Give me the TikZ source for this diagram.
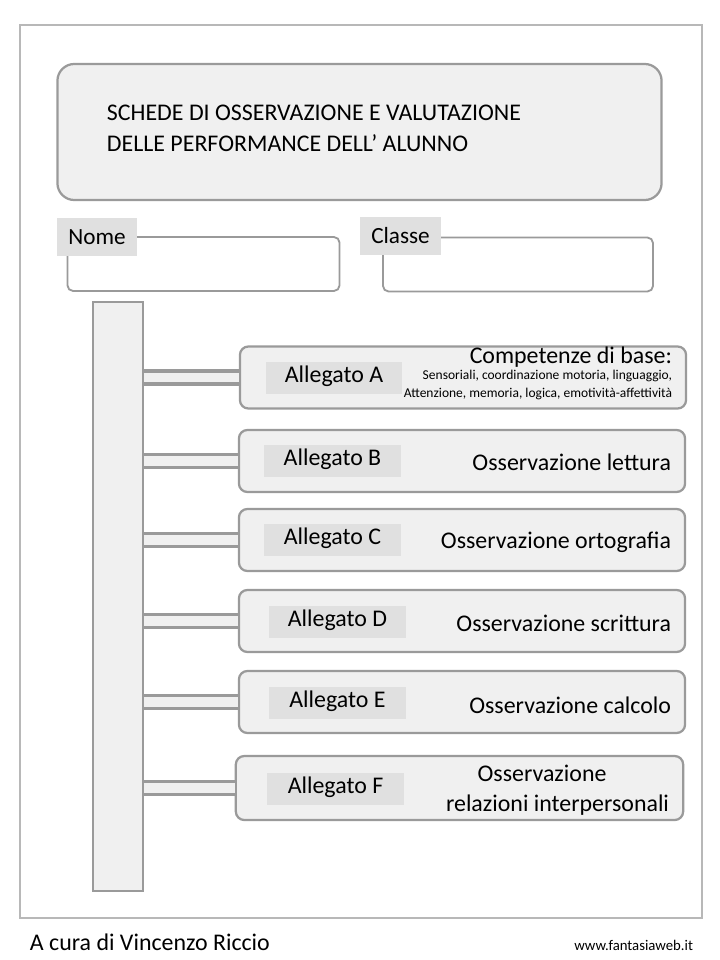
\documentclass[tikz,border=0pt]{standalone}
\usepackage{fontspec}
\setmainfont{Carlito}
\usetikzlibrary{positioning}
\definecolor{edge}{HTML}{9A9A9A}
\definecolor{pale}{HTML}{F0F0F0}
\definecolor{tag}{HTML}{E0E0E0}
\tikzset{
  panel/.style={draw=edge, line width=1.6pt, rounded corners=6pt, fill=pale, minimum width=11.15cm, minimum height=1.55cm},
  tagbox/.style={fill=tag, minimum width=3.4cm, minimum height=0.8cm, text height=9pt, text depth=2pt, font=\fontsize{17}{19}\selectfont},
  field/.style={draw=edge, line width=1.3pt, rounded corners=4pt, fill=white, minimum width=6.8cm, minimum height=1.35cm},
  link/.style={draw=edge, line width=2.2pt, double=pale, double distance=7pt},
  side/.style={anchor=east, align=right, font=\fontsize{17}{19}\selectfont}
}
\begin{document}
\begin{tikzpicture}[x=0.025cm, y=-0.025cm]
  \useasboundingbox (0,0) rectangle (720,960);
  \draw[edge!70, line width=0.8pt] (20,25) rectangle (702,918);

  % title
  \node[panel, minimum width=15.1cm, minimum height=3.4cm, rounded corners=12pt] (title) at (359.5,132) {};
  \node[anchor=west, align=left, font=\fontsize{17}{22}\selectfont] (titletext) at (102,128)
    {SCHEDE DI OSSERVAZIONE E VALUTAZIONE\\DELLE PERFORMANCE DELL’ ALUNNO};

  % name and class
  \node[field] (namebox) at (203.5,264) {};
  \node[fill=tag, minimum width=2cm, minimum height=0.95cm, font=\fontsize{16.5}{18}\selectfont] (namelabel) at (97,237) {Nome};
  \node[field, minimum width=6.75cm] (classbox) at (518,264.5) {};
  \node[fill=tag, minimum width=2cm, minimum height=0.95cm, font=\fontsize{16.5}{18}\selectfont] (classlabel) at (400.5,236) {Classe};

  % bar
  \node[draw=edge, line width=1.3pt, fill=pale, minimum width=1.25cm, minimum height=14.72cm, inner sep=0pt] (bar) at (118,596.5) {};

  % rows
  \node[panel] (rowA) at (463,377.5) {};
  \node[panel] (rowB) at (462,461) {};
  \node[panel] (rowC) at (462,540) {};
  \node[panel] (rowD) at (462,621) {};
  \node[panel] (rowE) at (462,702) {};
  \node[panel, minimum width=11.18cm, minimum height=1.6cm] (rowF) at (459.5,788) {};

  \foreach \r in {A,B,C,D,E,F}
    \draw[link] (bar.east |- row\r.west) -- (row\r.west);

  \node[tagbox] (tagA) at (334,378) {Allegato A};
  \node[tagbox] (tagB) at (332.5,461) {Allegato B};
  \node[tagbox] (tagC) at (332.5,540) {Allegato C};
  \node[tagbox] (tagD) at (337.5,622) {Allegato D};
  \node[tagbox] (tagE) at (337.5,703) {Allegato E};
  \node[tagbox] (tagF) at (335.5,789) {Allegato F};

  \node[side] (textA) at (677,357) {Competenze di base:};
  \node[side, font=\fontsize{9.6}{12.5}\selectfont] (subA) at (677,385)
    {Sensoriali, coordinazione motoria, linguaggio,\\Attenzione, memoria, logica, emotività-affettività};
  \node[side] (textB) at (676,462) {Osservazione lettura};
  \node[side] (textC) at (676,542) {Osservazione ortografia};
  \node[side] (textD) at (676,623) {Osservazione scrittura};
  \node[side] (textE) at (676,705) {Osservazione calcolo};
  \node[side, align=center, font=\fontsize{17}{21}\selectfont] (textF) at (674,790) {Osservazione\\\hspace*{1.3em}relazioni interpersonali};

  % footer
  \node[anchor=west, font=\fontsize{17}{19}\selectfont] (author) at (25,942) {A cura di Vincenzo Riccio};
  \node[anchor=east, font=\fontsize{10.5}{12}\selectfont] (site) at (698,945) {www.fantasiaweb.it};
\end{tikzpicture}
\end{document}
